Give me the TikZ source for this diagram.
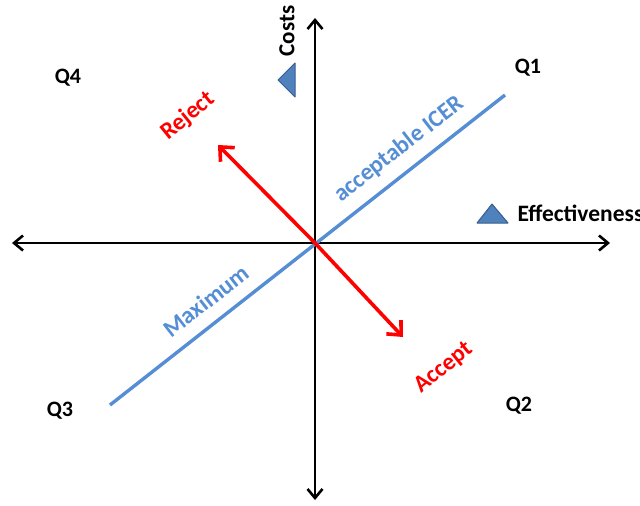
\documentclass[tikz,border=0pt]{standalone}
\usepackage{fontspec}
\setmainfont{Carlito}
\usetikzlibrary{arrows.meta}
\definecolor{icer}{RGB}{85,142,213}
\definecolor{trifill}{RGB}{79,129,189}
\definecolor{triedge}{RGB}{56,93,138}
\begin{document}
\begin{tikzpicture}[x=1pt,y=-1pt,
  axis/.style={line width=2.6pt,-{Straight Barb[length=9pt,width=15pt,line width=2.6pt]}},
  redarrow/.style={line width=3.6pt,red,-{Straight Barb[length=11pt,width=20pt,line width=3.6pt]}},
  icerline/.style={line width=3.4pt,icer},
  lbl/.style={font=\bfseries\fontsize{22}{24}\selectfont},
  rlbl/.style={font=\bfseries\fontsize{24}{26}\selectfont},
  tri/.style={fill=trifill,draw=triedge,line width=1pt,line join=round}]
\useasboundingbox (0,0) rectangle (640,506);
\coordinate (O) at (315,243);
\coordinate (L) at (12,243);
\coordinate (R) at (610,243);
\coordinate (T) at (315,18);
\coordinate (B) at (315,500);
\coordinate (M1) at (110,405);
\coordinate (M2) at (505,95);
\coordinate (Rj) at (218,145);
\coordinate (Ac) at (403,337);
\draw[axis] (O) -- (L);
\draw[axis] (O) -- (R);
\draw[axis] (O) -- (T);
\draw[axis] (O) -- (B);
\draw[icerline] (M1) -- (M2);
\draw[redarrow] (O) -- (Rj);
\draw[redarrow] (O) -- (Ac);
\draw[tri] (278,80) -- (295,63) -- (295,97) -- cycle;
\draw[tri] (492,204) -- (508,223) -- (477,223) -- cycle;
\node[font=\bfseries\fontsize{23.5}{25}\selectfont,anchor=west] (eff) at (514,213) {Effectiveness};
\node[font=\bfseries\fontsize{23}{25}\selectfont,rotate=90] (costs) at (287,31) {Costs};
\node[lbl] (q1) at (528,68) {Q1};
\node[lbl] (q4) at (68,78) {Q4};
\node[lbl] (q3) at (60,411) {Q3};
\node[lbl] (q2) at (519,406) {Q2};
\node[rlbl,red,rotate=39] (rej) at (188,116) {Reject};
\node[rlbl,red,rotate=39] (acc) at (444,368) {Accept};
\node[rlbl,icer,rotate=38] (icerlbl) at (399,149) {acceptable ICER};
\node[rlbl,icer,rotate=38] (max) at (206,301) {Maximum};
\end{tikzpicture}
\end{document}
